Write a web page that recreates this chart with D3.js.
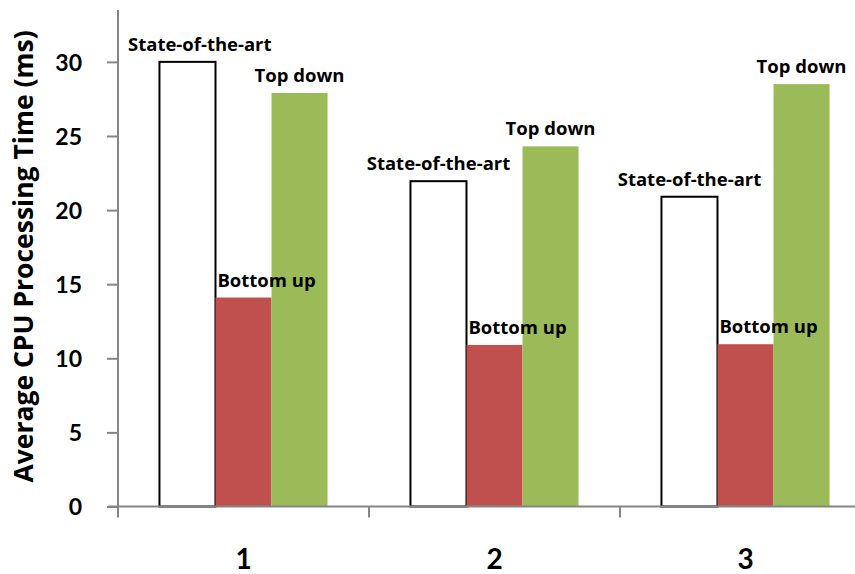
<!DOCTYPE html>
<html>
<head>
<meta charset="utf-8">
<script src="https://cdn.jsdelivr.net/npm/d3@7"></script>
<style>
  body { margin: 0; background: #fff; }
  text { font-family: Lato, "Open Sans", sans-serif; font-weight: bold; fill: #000; }
  .lbl, .ytitle { font-family: "Open Sans", Lato, sans-serif; }
</style>
</head>
<body>
<svg id="chart"></svg>
<script>
const categories = ['1', '2', '3'];
const seriesNames = ['State-of-the-art', 'Bottom up', 'Top down'];
const stateOfTheArt = [30, 21.95, 20.9];
const bottomUp = [14.1, 10.9, 10.95];
const topDown = [27.9, 24.3, 28.5];
const yTicks = [0, 5, 10, 15, 20, 25, 30];

const width = 855;
const height = 574;
const svg = d3.select('#chart').attr('width', width).attr('height', height);

const left = 118, step = 251;
const x = d3.scaleBand().domain(categories).range([left, left + step * categories.length]);
const xs = d3.scaleBand().domain(seriesNames).range([0, step]).paddingInner(0).paddingOuter(0.74);
const y = d3.scaleLinear().domain([0, 33.5]).range([506.5, 10]);

const rows = categories.map((c, i) => ({
  cat: c,
  values: [
    { name: seriesNames[0], v: stateOfTheArt[i] },
    { name: seriesNames[1], v: bottomUp[i] },
    { name: seriesNames[2], v: topDown[i] }
  ]
}));

const fill = { 'State-of-the-art': '#ffffff', 'Bottom up': '#c0504d', 'Top down': '#9bbb59' };

const groups = svg.selectAll('.group').data(rows).enter().append('g')
  .attr('transform', d => `translate(${x(d.cat)},0)`);

groups.selectAll('rect').data(d => d.values).enter().append('rect')
  .attr('x', d => xs(d.name))
  .attr('y', d => y(d.v))
  .attr('width', xs.bandwidth())
  .attr('height', d => y(0) - y(d.v))
  .attr('fill', d => fill[d.name])
  .attr('stroke', d => d.name === 'State-of-the-art' ? '#000' : 'none')
  .attr('stroke-width', 2);

// data labels (series names)
groups.each(function (d) {
  const g = d3.select(this);
  const gx = x(d.cat);
  d.values.forEach(s => {
    const t = g.append('text')
      .attr('class', 'lbl')
      .attr('y', y(s.v) - 11)
      .attr('font-size', 18.5)
      .text(s.name);
    let cx = xs(s.name) + xs.bandwidth() / 2;
    if (s.name === 'Bottom up') cx += 23;
    const w = t.node().getComputedTextLength();
    // keep the label inside the plot area
    if (gx + cx - w / 2 < left + 10) cx = left + 10 - gx + w / 2;
    t.attr('x', cx).attr('text-anchor', 'middle');
  });
});

// y axis
const yAxis = svg.append('g').attr('transform', `translate(${left},0)`)
  .call(d3.axisLeft(y).tickValues(yTicks).tickSize(11).tickPadding(25).tickFormat(d3.format('d')));
yAxis.select('.domain').attr('d', `M0,${y(33.5)}V${y(0)}`);
yAxis.selectAll('line, .domain').attr('stroke', '#868686').attr('stroke-width', 2);
yAxis.selectAll('text').attr('font-size', 23).attr('font-family', 'Lato').attr('font-weight', 'bold').attr('dy', '0.36em');

// x axis
const xAxisG = svg.append('g').attr('transform', `translate(0,${y(0)})`);
xAxisG.append('line').attr('x1', left - 10).attr('x2', width).attr('y1', 0).attr('y2', 0)
  .attr('stroke', '#868686').attr('stroke-width', 2);
xAxisG.selectAll('.tick').data(categories.map(c => x(c)).concat([left + step * categories.length])).enter()
  .append('line').attr('x1', d => d).attr('x2', d => d).attr('y1', 0).attr('y2', 11)
  .attr('stroke', '#868686').attr('stroke-width', 2);
xAxisG.selectAll('.lab').data(categories).enter().append('text')
  .attr('x', d => x(d) + x.bandwidth() / 2)
  .attr('y', 62)
  .attr('text-anchor', 'middle')
  .attr('font-size', 28)
  .text(d => d);

// y title
svg.append('text')
  .attr('class', 'ytitle')
  .attr('transform', `translate(33,${(30 + 483) / 2}) rotate(-90)`)
  .attr('text-anchor', 'middle')
  .attr('font-size', 26.5)
  .text('Average CPU Processing Time (ms)');
</script>
</body>
</html>
